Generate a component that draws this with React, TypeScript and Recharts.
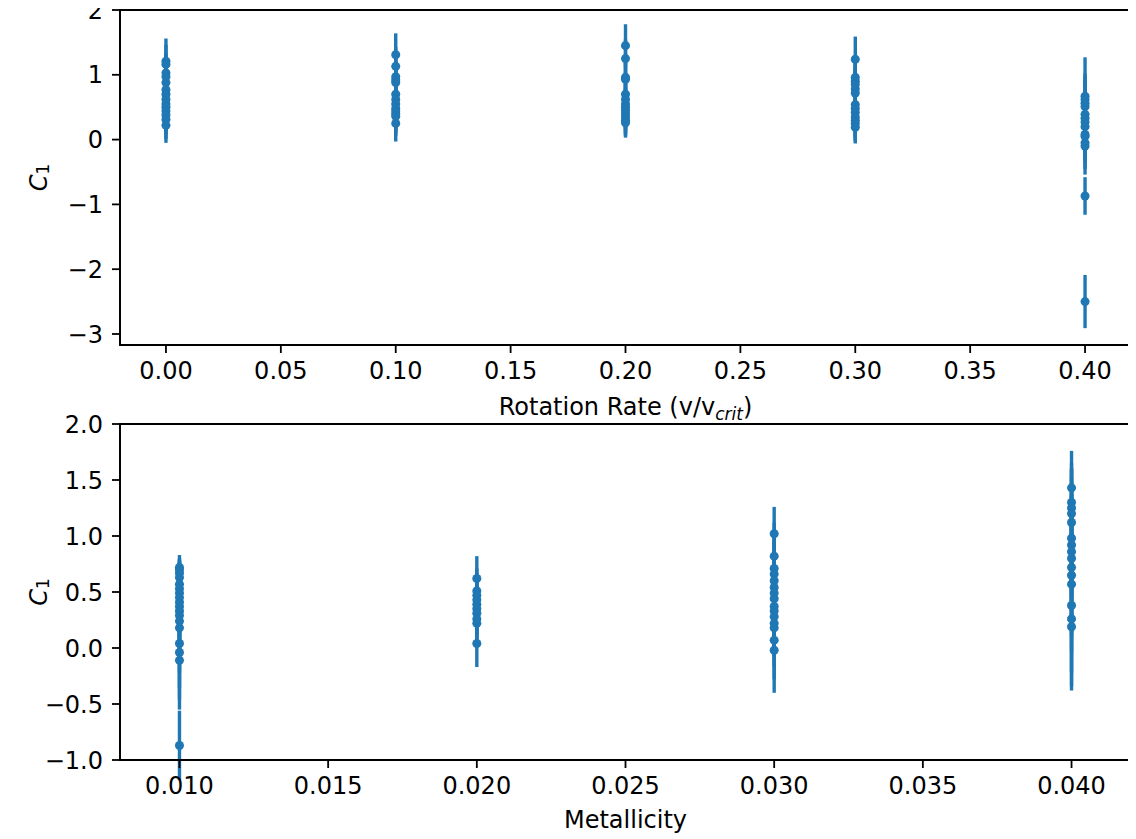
import React from "react";
import { ScatterChart, Scatter, XAxis, YAxis, ErrorBar, ReferenceArea } from "recharts";

const BLUE = "#1f77b4";
const FONT = "'DejaVu Sans', sans-serif";
const FS = 24;

// top panel: C1 against rotation rate
const rotTicks = [0, 0.05, 0.1, 0.15, 0.2, 0.25, 0.3, 0.35, 0.4];
const rotC1Ticks = [-3, -2, -1, 0, 1, 2];

const rot00 = [1.21, 1.16, 1.03, 0.97, 0.88, 0.77, 0.7, 0.62, 0.55, 0.5, 0.44, 0.38, 0.31, 0.22];
const rot00Err = [0.35, 0.3, 0.3, 0.28, 0.3, 0.3, 0.3, 0.32, 0.3, 0.3, 0.3, 0.3, 0.3, 0.27];
const rot10 = [1.31, 1.13, 0.97, 0.92, 0.88, 0.7, 0.62, 0.55, 0.48, 0.44, 0.4, 0.36, 0.25];
const rot10Err = [0.33, 0.3, 0.3, 0.3, 0.28, 0.3, 0.3, 0.3, 0.3, 0.3, 0.3, 0.3, 0.28];
const rot20 = [1.45, 1.25, 0.96, 0.93, 0.7, 0.62, 0.55, 0.5, 0.45, 0.4, 0.35, 0.3, 0.26];
const rot20Err = [0.33, 0.3, 0.3, 0.3, 0.3, 0.3, 0.3, 0.3, 0.3, 0.3, 0.27, 0.25, 0.23];
const rot30 = [1.24, 0.96, 0.9, 0.85, 0.78, 0.72, 0.54, 0.48, 0.42, 0.35, 0.3, 0.25, 0.19];
const rot30Err = [0.35, 0.3, 0.3, 0.3, 0.3, 0.3, 0.3, 0.3, 0.3, 0.3, 0.3, 0.28, 0.25];
const rot40 = [0.67, 0.62, 0.56, 0.51, 0.39, 0.33, 0.27, 0.2, 0.08, 0.05, -0.05, -0.1, -0.87, -2.5];
const rot40Err = [0.6, 0.4, 0.4, 0.4, 0.4, 0.4, 0.4, 0.4, 0.4, 0.4, 0.4, 0.44, 0.29, 0.41];

// bottom panel: C1 against metallicity
const metTicks = [0.01, 0.015, 0.02, 0.025, 0.03, 0.035, 0.04];
const metC1Ticks = [-1, -0.5, 0, 0.5, 1, 1.5, 2];

const met010 = [0.72, 0.7, 0.67, 0.63, 0.57, 0.53, 0.49, 0.45, 0.41, 0.37, 0.33, 0.29, 0.24, 0.18, 0.04, -0.04, -0.11, -0.87];
const met010Err = [0.11, 0.1, 0.12, 0.15, 0.2, 0.2, 0.25, 0.25, 0.3, 0.3, 0.3, 0.35, 0.35, 0.4, 0.4, 0.42, 0.44, 0.31];
const met020 = [0.62, 0.51, 0.47, 0.43, 0.39, 0.35, 0.31, 0.26, 0.22, 0.04];
const met020Err = [0.2, 0.2, 0.2, 0.2, 0.2, 0.2, 0.2, 0.2, 0.2, 0.21];
const met030 = [1.02, 0.82, 0.71, 0.66, 0.6, 0.54, 0.49, 0.44, 0.37, 0.33, 0.28, 0.22, 0.18, 0.07, -0.02];
const met030Err = [0.24, 0.3, 0.3, 0.3, 0.3, 0.3, 0.3, 0.3, 0.3, 0.3, 0.3, 0.3, 0.35, 0.35, 0.38];
const met040 = [1.43, 1.3, 1.25, 1.2, 1.12, 0.98, 0.92, 0.86, 0.8, 0.72, 0.65, 0.57, 0.38, 0.26, 0.19];
const met040Err = [0.33, 0.35, 0.35, 0.4, 0.4, 0.45, 0.45, 0.5, 0.5, 0.55, 0.55, 0.6, 0.6, 0.6, 0.57];

const pts = (x: number, ys: number[], errs: number[]) =>
  ys.map((y, i) => ({ x, y, err: errs[i] }));

const rotPoints = [
  ...pts(0, rot00, rot00Err),
  ...pts(0.1, rot10, rot10Err),
  ...pts(0.2, rot20, rot20Err),
  ...pts(0.3, rot30, rot30Err),
  ...pts(0.4, rot40, rot40Err),
];

const metPoints = [
  ...pts(0.01, met010, met010Err),
  ...pts(0.02, met020, met020Err),
  ...pts(0.03, met030, met030Err),
  ...pts(0.04, met040, met040Err),
];

const fmt = (digits: number) => (v: number) =>
  v < 0 ? "\u2212" + Math.abs(v).toFixed(digits) : v.toFixed(digits);

const tickStyle = { fill: "#000", fontSize: FS, fontFamily: FONT };
const lineStyle = { stroke: "#000", strokeWidth: 1.8 };

function C1Label({ viewBox }: any) {
  const x = 47;
  const cy = (viewBox?.y ?? 0) + (viewBox?.height ?? 0) / 2;
  return (
    <text x={x} y={cy} transform={`rotate(-90 ${x} ${cy})`} textAnchor="middle"
      fontFamily={FONT} fontSize={FS} fill="#000">
      <tspan fontStyle="italic">C</tspan>
      <tspan fontSize={17} dy={2}>1</tspan>
    </text>
  );
}

function RotLabel({ viewBox }: any) {
  const cx = viewBox.x + viewBox.width / 2;
  return (
    <text x={cx} y={viewBox.y + 70} textAnchor="middle" fontFamily={FONT} fontSize={FS} fill="#000">
      Rotation Rate (v/v
      <tspan fontStyle="italic" fontSize={17} dy={5}>crit</tspan>
      <tspan dy={-5}>)</tspan>
    </text>
  );
}

function MetLabel({ viewBox }: any) {
  const cx = viewBox.x + viewBox.width / 2;
  return (
    <text x={cx} y={viewBox.y + 68} textAnchor="middle" fontFamily={FONT} fontSize={FS} fill="#000">
      Metallicity
    </text>
  );
}

export default function App() {
  return (
    <div style={{ position: "relative", width: 1136, height: 839, margin: "-8px 0 0 -8px", fontFamily: FONT }}>
      <div style={{ position: "absolute", left: 0, top: 0 }}>
        <ScatterChart width={1136} height={424} margin={{ top: 10, right: 5, bottom: 0, left: 8 }}>
          <XAxis type="number" dataKey="x" domain={[-0.02, 0.42]} ticks={rotTicks} interval={0}
            allowDataOverflow tickFormatter={fmt(2)} tick={tickStyle} tickSize={8} tickMargin={9}
            axisLine={lineStyle} tickLine={lineStyle} height={79}
            label={{ content: (p: any) => <RotLabel {...p} /> }} />
          <YAxis type="number" dataKey="y" domain={[-3.17, 2]} ticks={rotC1Ticks} interval={0}
            allowDataOverflow tickFormatter={fmt(0)} tick={tickStyle} tickSize={8} tickMargin={9}
            axisLine={lineStyle} tickLine={lineStyle} width={112}
            label={{ content: (p: any) => <C1Label {...p} /> }} />
          <ReferenceArea x1={-0.02} x2={0.42} y1={-3.17} y2={2} fill="none" fillOpacity={0}
            stroke="#000" strokeWidth={1.8} />
          <Scatter data={rotPoints} fill={BLUE} isAnimationActive={false}>
            <ErrorBar dataKey="err" direction="y" width={0} stroke={BLUE} strokeWidth={3.4}
              isAnimationActive={false} />
          </Scatter>
        </ScatterChart>
      </div>
      <div style={{ position: "absolute", left: 0, top: 400 }}>
        <ScatterChart width={1136} height={439} margin={{ top: 24, right: 5, bottom: 0, left: 8 }}>
          <XAxis type="number" dataKey="x" domain={[0.008, 0.042]} ticks={metTicks} interval={0}
            allowDataOverflow tickFormatter={fmt(3)} tick={tickStyle} tickSize={8} tickMargin={9}
            axisLine={lineStyle} tickLine={lineStyle} height={79}
            label={{ content: (p: any) => <MetLabel {...p} /> }} />
          <YAxis type="number" dataKey="y" domain={[-1, 2]} ticks={metC1Ticks} interval={0}
            allowDataOverflow tickFormatter={fmt(1)} tick={tickStyle} tickSize={8} tickMargin={9}
            axisLine={lineStyle} tickLine={lineStyle} width={112}
            label={{ content: (p: any) => <C1Label {...p} /> }} />
          <ReferenceArea x1={0.008} x2={0.042} y1={-1} y2={2} fill="none" fillOpacity={0}
            stroke="#000" strokeWidth={1.8} />
          <Scatter data={metPoints} fill={BLUE} isAnimationActive={false}>
            <ErrorBar dataKey="err" direction="y" width={0} stroke={BLUE} strokeWidth={3.4}
              isAnimationActive={false} />
          </Scatter>
        </ScatterChart>
      </div>
    </div>
  );
}
